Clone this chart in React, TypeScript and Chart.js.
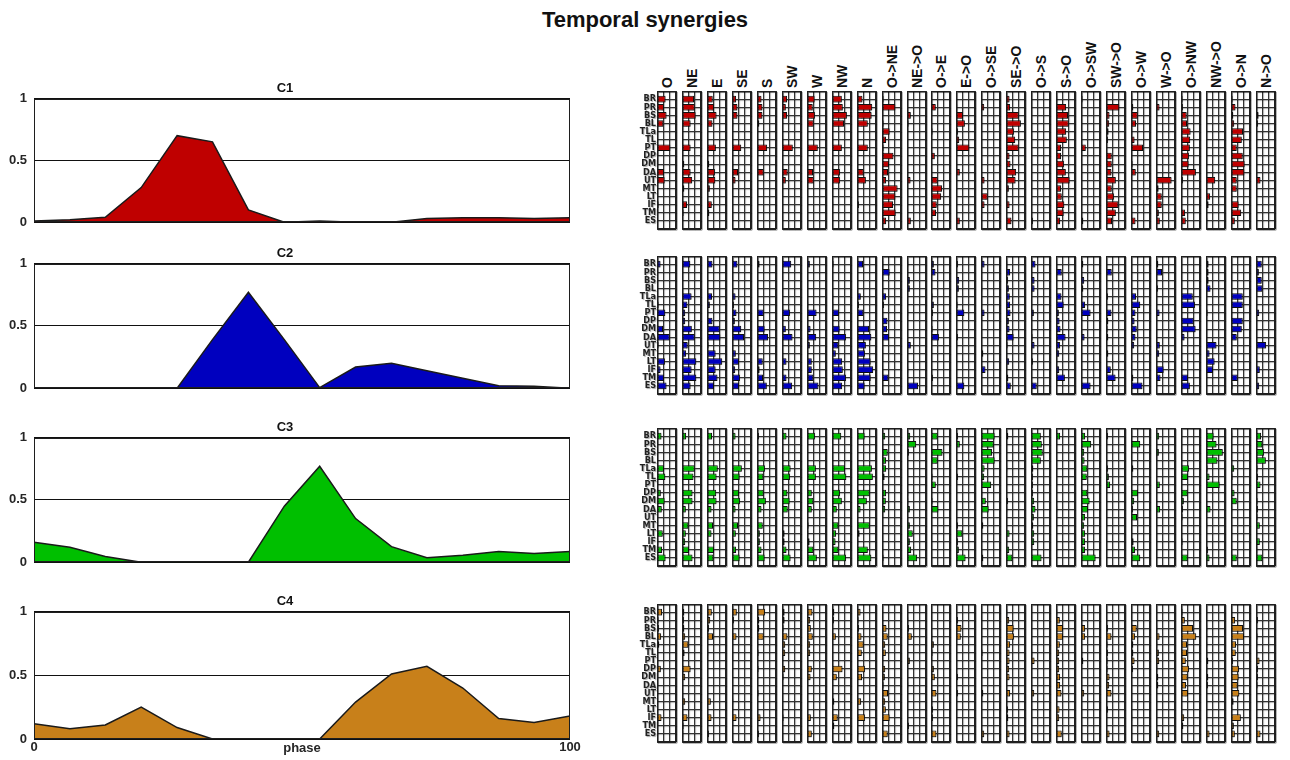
import React, { useEffect, useRef } from 'react';
import { Chart, registerables } from 'chart.js';

Chart.register(...registerables);

const FONT = '"Liberation Sans", Arial, Helvetica, sans-serif';
const NARROW = '"Liberation Sans Narrow", "DejaVu Sans Condensed", "Liberation Sans", sans-serif';

// ---------- Activation coefficients (left) ----------
const PHASE = [0, 6.7, 13.3, 20, 26.7, 33.3, 40, 46.7, 53.3, 60, 66.7, 73.3, 80, 86.7, 93.3, 100];
const C1_ACT = [0.01, 0.02, 0.04, 0.28, 0.7, 0.65, 0.1, 0.0, 0.01, 0.0, 0.0, 0.03, 0.035, 0.035, 0.03, 0.035];
const C2_ACT = [0, 0, 0, 0, 0, 0.39, 0.77, 0.39, 0.005, 0.17, 0.2, 0.14, 0.08, 0.02, 0.015, 0];
const C3_ACT = [0.16, 0.12, 0.045, 0, 0.003, 0, 0, 0.45, 0.77, 0.35, 0.125, 0.035, 0.055, 0.085, 0.07, 0.085];
const C4_ACT = [0.12, 0.08, 0.11, 0.25, 0.09, 0, 0, 0, 0, 0.29, 0.51, 0.57, 0.4, 0.16, 0.13, 0.18];
const Y_TICKS = [0, 0.5, 1];
const X_TICKS = [0, 100];

// ---------- Muscle weights (right) ----------
const MUSCLES = ['BR', 'PR', 'BS', 'BL', 'TLa', 'TL', 'PT', 'DP', 'DM', 'DA', 'UT', 'MT', 'LT', 'IF', 'TM', 'ES'];
const DIRECTIONS = ['O', 'NE', 'E', 'SE', 'S', 'SW', 'W', 'NW', 'N', 'O->NE', 'NE->O', 'O->E', 'E->O', 'O->SE', 'SE->O', 'O->S', 'S->O', 'O->SW', 'SW->O', 'O->W', 'W->O', 'O->NW', 'NW->O', 'O->N', 'N->O'];

const C1_W = [
  [1.35, 1.1, 1.5, 1.0, 0, 0, 2.1, 0.05, 0.15, 1.1, 1.2, 0.05, 0, 0.25, 0, 0],
  [1.9, 2.0, 2.15, 1.35, 0, 0, 1.35, 0, 0.35, 1.35, 1.6, 0.35, 0, 0.8, 0.25, 0],
  [0.9, 1.1, 1.5, 0.85, 0, 0, 1.4, 0, 0.35, 1.25, 1.3, 0.45, 0, 0.75, 0.35, 0],
  [0.65, 0.85, 0.85, 0.2, 0, 0, 1.45, 0, 0.2, 0.95, 0.55, 0, 0, 0, 0.1, 0],
  [0.7, 0.85, 0.85, 0.35, 0, 0, 1.6, 0, 0, 1.05, 0.1, 0, 0, 0, 0, 0],
  [0.8, 0.6, 0.8, 0.15, 0, 0, 1.7, 0, 0, 0.9, 0.6, 0, 0, 0, 0, 0],
  [1.2, 0.9, 1.25, 1.05, 0, 0, 1.7, 0, 0, 0.95, 1.05, 0, 0, 0, 0, 0],
  [1.55, 1.7, 2.35, 1.9, 0, 0, 1.55, 0, 0.2, 1.25, 1.25, 0.15, 0, 0.2, 0, 0],
  [0.85, 2.4, 2.3, 1.7, 0, 0, 1.7, 0, 0, 1.05, 1.4, 0.1, 0.05, 0.3, 0.1, 0],
  [0.25, 2.1, 0, 0.25, 1.2, 0.65, 0.25, 1.8, 1.1, 0.95, 0.65, 2.45, 2.1, 1.75, 2.15, 0.65],
  [0, 0, 0.6, 0.25, 0, 0, 0.15, 0, 0, 0, 0.55, 0, 0, 0, 0, 0.6],
  [0, 0.75, 0, 0, 0.25, 0.15, 0, 0.6, 0.15, 0, 1.05, 1.75, 1.6, 0.9, 0.8, 0],
  [0.15, 0.2, 1.1, 1.4, 0.3, 0.5, 2.1, 0, 0, 0.6, 0.15, 0, 0, 0, 0, 0.6],
  [0, 0.5, 0, 0, 0, 0, 0, 0, 0, 0, 0.55, 0.2, 1.05, 0.55, 0.1, 0],
  [0.55, 0.65, 2.0, 2.35, 1.25, 1.45, 2.0, 0.55, 0.7, 1.6, 1.5, 0.45, 0, 0.55, 0, 0.85],
  [0, 0.15, 0, 0, 0, 0, 0, 0, 0, 0, 0, 0, 0, 0, 0, 0.3],
  [0.2, 1.6, 1.9, 2.0, 1.6, 1.7, 0.8, 0.8, 1.25, 1.55, 2.15, 0.8, 0.9, 1.3, 1.2, 0.65],
  [0.25, 0, 0, 0, 0, 0, 0.75, 0, 0, 0, 0, 0, 0, 0, 0, 0.35],
  [0, 2.1, 0.55, 0.5, 0.4, 0.3, 0.1, 0.9, 0.9, 0.85, 1.55, 0.9, 1.25, 1.95, 1.55, 0.95],
  [0.2, 0.35, 1.05, 0.8, 0.2, 0.55, 1.9, 0, 0.25, 0.75, 0, 0, 0, 0, 0, 0.7],
  [0, 0.55, 0.15, 0, 0, 0, 0.1, 0, 0, 0, 2.45, 0.4, 0.9, 0.9, 0.45, 0.6],
  [0.25, 0.3, 0.9, 0.95, 1.5, 1.45, 1.4, 1.25, 1.2, 2.35, 0.3, 0.1, 0, 0, 0.65, 0.75],
  [0, 0.1, 0, 0, 0, 0, 0, 0, 0, 0, 1.45, 0.1, 0.65, 0.4, 0, 0.2],
  [0.25, 0.7, 0.35, 0.5, 1.9, 1.7, 0.9, 1.85, 2.15, 2.1, 0.9, 0.9, 0.2, 1.2, 1.6, 0.6],
  [0, 0, 0.4, 0.3, 0, 0, 0, 0, 0, 0, 0.7, 0, 0, 0, 0, 0],
];

const C2_W = [
  [0.55, 0, 0, 0, 0.1, 0.25, 1.3, 0, 0.95, 2.0, 0.25, 0.15, 1.25, 0.55, 1.1, 1.5],
  [1.3, 0, 0, 0, 1.5, 0.85, 0.5, 0.5, 1.55, 2.0, 0.9, 0.65, 2.25, 1.5, 2.25, 1.35],
  [0.85, 0, 0, 0, 0.8, 0.45, 0.2, 0.85, 2.0, 2.1, 0.25, 1.35, 2.4, 1.35, 1.65, 1.1],
  [0.85, 0, 0, 0, 0.55, 0.3, 0.7, 0.45, 1.45, 1.9, 0, 0.6, 1.1, 0.5, 1.25, 1.1],
  [0.4, 0, 0, 0, 0, 0, 1.05, 0, 1.2, 1.75, 0.2, 0, 0.9, 0.4, 0.95, 1.55],
  [1.45, 0, 0, 0, 0, 0, 1.25, 0, 0.6, 1.65, 0, 0, 0.7, 0, 0.7, 1.6],
  [0.45, 0, 0, 0, 0, 0.2, 1.5, 0, 0.55, 1.45, 0.45, 0, 0.75, 0.75, 1.0, 1.8],
  [0.25, 0.1, 0, 0, 0.2, 0.2, 1.1, 0, 1.2, 2.2, 1.0, 0.6, 1.6, 1.7, 2.2, 1.6],
  [0.95, 0, 0, 0, 0.6, 0.3, 1.0, 0, 1.9, 2.25, 1.4, 1.25, 2.15, 2.55, 2.15, 1.2],
  [0.2, 1.2, 0, 0, 0.65, 0.3, 0.1, 0.85, 0.8, 1.1, 0, 0, 0, 0, 1.0, 0],
  [0.2, 0, 0.45, 0.45, 0, 0, 0.2, 0, 0, 0, 0.6, 0.15, 0.15, 0.2, 0, 1.75],
  [0.45, 0.7, 0, 0.15, 0.25, 0.45, 0.3, 0, 0.25, 1.25, 0, 0, 0, 0, 0.3, 0],
  [0.3, 0, 0.5, 0.45, 0, 0.25, 1.3, 0, 0.15, 0.3, 0.2, 0, 0, 0, 0, 1.3],
  [0.55, 0, 0, 0.2, 0, 0, 0.55, 0, 0, 0, 0.15, 0.35, 0, 0.7, 0, 0],
  [0.2, 0.65, 0.3, 0.45, 0.6, 0.65, 0.7, 0.45, 0.55, 1.2, 0.25, 0, 0.5, 0, 0.35, 0.75],
  [0.7, 0, 0.55, 0.55, 0, 0, 0.45, 0, 0, 0.25, 0.55, 0, 0.3, 0, 0, 0.9],
  [0.15, 0.9, 0, 0.1, 0.85, 1.2, 0.45, 0.55, 0.7, 1.5, 0.65, 0.5, 0, 0.5, 1.4, 0],
  [0.35, 0, 0.5, 0.35, 0.2, 0.65, 1.5, 0, 0, 0.55, 0, 0, 0, 0, 0, 1.5],
  [0.15, 0.9, 0, 0, 0.3, 0.15, 0.85, 0.35, 0.25, 0.35, 0.1, 0.35, 0, 0.75, 1.5, 0],
  [0, 0, 0, 0, 0.8, 1.45, 0.7, 0.55, 0.9, 0.7, 0.5, 0.1, 0, 0, 0.35, 1.8],
  [0.35, 0.95, 0, 0.3, 0, 0, 0.55, 0, 0, 0.1, 0.6, 0.5, 0, 1.2, 0.7, 0],
  [0, 0.1, 0, 0, 1.85, 2.2, 0, 2.0, 2.3, 0.55, 0, 0.15, 0, 0, 1.1, 1.4],
  [0.4, 0.4, 0.4, 0.7, 0, 0, 0.25, 0, 0, 0.1, 1.65, 0.55, 1.35, 1.1, 0, 0],
  [0.15, 0, 0, 0, 1.85, 1.85, 0, 1.85, 1.7, 0.9, 0, 0.1, 0, 0, 1.05, 0.25],
  [0.9, 0.45, 0.9, 1.0, 0, 0, 0.5, 0, 0, 0, 1.6, 0.15, 0.1, 0.6, 0, 0.5],
];

const C3_W = [
  [0.7, 0, 0, 0, 1.1, 1.3, 0, 0.6, 1.2, 0.75, 0, 0.15, 0.9, 0.2, 0.8, 1.35],
  [0.65, 0.1, 0, 0, 2.0, 1.8, 0, 1.65, 1.65, 0.6, 0, 1.0, 0.6, 0.5, 1.1, 1.65],
  [0.8, 0, 0, 0, 1.7, 1.5, 0, 1.45, 1.5, 0.7, 0, 0.95, 0.7, 0.15, 1.1, 1.0],
  [0.55, 0.1, 0, 0, 1.55, 1.2, 0, 1.1, 1.25, 0.55, 0, 0.95, 0.6, 0.25, 0.65, 1.2],
  [0.3, 0.1, 0, 0, 1.25, 1.0, 0, 1.05, 1.4, 0.7, 0, 0.9, 0.45, 0.45, 0.7, 1.2],
  [0.7, 0, 0, 0, 1.35, 1.25, 0, 0.85, 1.2, 0.9, 0, 0.15, 0.4, 0.4, 0.7, 1.35],
  [1.25, 0, 0, 0, 1.4, 1.4, 0, 0.75, 1.0, 0.75, 0, 0.25, 0.2, 0.4, 1.0, 1.55],
  [1.45, 0.15, 0, 0, 2.05, 2.25, 0, 1.25, 1.55, 0.75, 0, 1.0, 0.65, 0.55, 1.0, 2.2],
  [1.2, 0.15, 0, 0, 2.35, 2.5, 0, 2.0, 1.55, 0.55, 0, 2.0, 0.4, 0.2, 1.7, 2.25],
  [0.5, 0, 0.9, 0.65, 0.65, 0.4, 0.1, 0.65, 0.6, 0.5, 0.15, 0, 0, 0, 0, 0.25],
  [0.5, 1.45, 0.3, 0.05, 0, 0, 0, 0.2, 0.2, 0.45, 0, 0.45, 0.9, 0.45, 0.65, 1.6],
  [1.05, 0.15, 1.8, 1.05, 0.1, 0.25, 0.75, 0, 0.25, 1.15, 0, 0, 0, 0, 0, 0],
  [0.3, 0.6, 0, 0, 0, 0.3, 0, 0.15, 0, 0, 0, 0.3, 1.0, 0.3, 0.45, 1.5],
  [2.15, 2.0, 1.75, 2.15, 0.55, 0.5, 1.6, 0.2, 0.75, 1.2, 0, 0.35, 0, 0.15, 0, 0.35],
  [0.35, 0, 0, 0, 0.2, 0.1, 0, 0.1, 0.3, 0.2, 0, 0.1, 0.55, 0.1, 0.5, 1.0],
  [1.55, 1.7, 1.85, 1.55, 0.35, 0.3, 0.3, 0.3, 0.5, 0.7, 0.45, 0.35, 0.5, 0.5, 0, 1.65],
  [0.65, 0, 0, 0, 0, 0.1, 0, 0, 0.05, 0.2, 0, 0, 0, 0, 0, 0.05],
  [0.65, 1.6, 0.5, 0.55, 1.0, 0.9, 0.15, 1.0, 1.35, 1.1, 0.65, 0.5, 0.65, 0.65, 0.65, 2.3],
  [0.3, 0.05, 0, 0, 0.3, 0.45, 0.65, 0, 0.15, 0.15, 0.15, 0, 0, 0, 0, 0],
  [0.15, 1.45, 0, 0, 0.35, 0, 0, 1.1, 0.5, 0.3, 0.95, 0.1, 0.15, 0.4, 0.65, 1.45],
  [0.5, 0.15, 0.45, 0.15, 0, 0, 0.6, 0, 0.15, 0.65, 0.15, 0, 0, 0, 0, 0.1],
  [0.1, 0, 0, 0, 1.25, 1.1, 0, 1.05, 0.45, 0.3, 0.25, 0, 0, 0.25, 0.1, 1.05],
  [1.2, 1.65, 2.65, 1.8, 0.25, 0.55, 2.15, 0, 0.15, 0.7, 0, 0.2, 0, 0, 0.3, 0.55],
  [0.2, 0.15, 0, 0, 0.5, 0.25, 0, 0.55, 0.9, 0.2, 0, 0, 0, 0, 0, 0.9],
  [0.8, 1.0, 1.25, 1.55, 0.25, 0.3, 0.7, 0.1, 0.25, 0.3, 0.25, 0.6, 0, 0.6, 0.2, 1.0],
];

const C4_W = [
  [0.8, 0.25, 0.3, 0.65, 0.35, 0.15, 0, 0.6, 0, 0, 0.15, 0.15, 0, 0.7, 0, 0],
  [0.35, 0.3, 0.35, 0.5, 1.0, 0.4, 0, 1.35, 0.5, 0, 0, 0.5, 0, 0.85, 0.25, 0.2],
  [0.75, 0.5, 0.3, 0.95, 0.15, 0.2, 0, 0.15, 0, 0, 0, 0.6, 0, 0.7, 0, 0.3],
  [0.75, 0.3, 0, 0.7, 0, 0, 0, 0.15, 0, 0, 0.15, 0.2, 0, 0.7, 0, 0.15],
  [1.25, 0.35, 0.35, 1.05, 0.2, 0.25, 0, 0.25, 0, 0, 0.25, 0, 0, 0.55, 0, 0.3],
  [0.4, 0.4, 0.25, 0.85, 0.5, 0.5, 0, 0.5, 0.25, 0, 0.15, 0, 0, 0.25, 0, 0.15],
  [0.85, 0.5, 0.6, 0.9, 0.5, 0.5, 0, 0.75, 0.55, 0, 0.15, 0, 0, 0.6, 0.15, 0.75],
  [0.35, 0.3, 0.15, 0.6, 0.15, 0, 0, 1.65, 0.75, 0, 0, 0.35, 0, 0.9, 0.35, 0],
  [0.55, 0.25, 0.3, 0.7, 1.05, 0.75, 0, 1.25, 0.8, 0.15, 0, 0.65, 0, 1.25, 0, 0.2],
  [0, 0.15, 0.7, 0.9, 0.5, 0.6, 0.15, 0.5, 0.45, 0.25, 0.95, 0.5, 0.6, 1.2, 0, 0.9],
  [0, 0.2, 0.3, 0.75, 0, 0, 0.45, 0.15, 0.1, 0.2, 0.15, 0, 0, 0, 0.3, 0],
  [0, 0, 0.15, 0.2, 0.45, 0.25, 0, 0.45, 0.6, 0, 0.85, 0.2, 0.3, 0.3, 0.1, 0.85],
  [0, 0.3, 0.85, 0.75, 0, 0, 0, 0, 0.3, 0, 0.3, 0, 0, 0, 0, 0],
  [0, 0, 0.05, 0, 0.15, 0.25, 0, 0.15, 0, 0, 0.35, 0, 0, 0, 0.15, 0.5],
  [0.2, 0.5, 1.2, 1.25, 0.65, 0.55, 0.55, 0.5, 0.55, 0.15, 0.65, 0.15, 0.3, 0.35, 0, 0.55],
  [0, 0, 0, 0, 0, 0.2, 0.55, 0, 0, 0, 0.5, 0, 0, 0, 0, 0.1],
  [0.2, 0.6, 1.1, 1.1, 0.6, 0.5, 0.5, 0.5, 0.65, 0.65, 0.85, 0.15, 0.55, 0.5, 0, 0.9],
  [0, 0, 0.65, 0.65, 0, 0.2, 0.35, 0, 0, 0, 0.5, 0, 0, 0, 0, 0],
  [0, 0, 0.3, 0.85, 0.25, 0.3, 0.25, 0.25, 0.55, 0.5, 0.85, 0.1, 0.3, 0, 0, 0.55],
  [0.1, 0, 0.9, 0.65, 0.35, 0.35, 0.55, 0.3, 0.05, 0, 0, 0, 0, 0.2, 0, 0],
  [0, 0, 0.2, 0.55, 0.2, 0.45, 0.5, 0.2, 0.35, 0.35, 0.1, 0, 0, 0, 0, 0.5],
  [0.25, 0.6, 1.9, 2.4, 0.95, 0.95, 0.75, 1.25, 1.05, 0.8, 1.1, 0.1, 0, 0.5, 0.35, 0],
  [0, 0, 0.2, 0.2, 0.2, 0.2, 0.35, 0.2, 0.35, 0.3, 0, 0, 0, 0, 0.1, 0.55],
  [0, 0.65, 1.9, 2.05, 0.8, 0.75, 0.3, 1.25, 1.2, 1.05, 1.3, 0.4, 0.2, 1.55, 0.45, 0.6],
  [0, 0.3, 0, 0.25, 0.2, 0.2, 0.55, 0.3, 0.3, 0.25, 0, 0, 0, 0, 0.2, 0.7],
];

const SYN_NAMES = ['C1', 'C2', 'C3', 'C4'];
const SYN_COLORS = ['#BF0000', '#0000BF', '#00BF00', '#C8801A'];
const SYN_ACT = [C1_ACT, C2_ACT, C3_ACT, C4_ACT];
const SYN_W = [C1_W, C2_W, C3_W, C4_W];
const W_TICKS = [0, 1, 2, 3];

// ---------- Layout (positions only) ----------
const AREA_TOPS = [100, 265, 439, 613];
const AREA_HEIGHTS = [127, 128, 128, 127];
const AREA_LEFT = 34;
const AREA_RIGHT = 570;
const PANEL_TOPS = [91, 256, 428, 604];
const PANEL_H = 138;
const PANEL_W = 19;
const PANEL_X0 = 657;
const PANEL_PITCH = 24.95;
const HEADER_BASE = 88;

const framePlugin = {
  id: 'frame',
  afterDraw(chart: any) {
    const { ctx, chartArea: a } = chart;
    ctx.save();
    ctx.strokeStyle = '#1e1e1e';
    ctx.lineWidth = 1;
    const l = Math.round(a.left) + 0.5;
    const t = Math.round(a.top) + 0.5;
    const r = Math.round(a.right) - 0.5;
    const b = Math.round(a.bottom) - 0.5;
    ctx.strokeRect(l, t, r - l, b - t);
    ctx.restore();
  },
};

const miniFramePlugin = {
  id: 'miniFrame',
  afterDraw(chart: any) {
    const { ctx, chartArea: a } = chart;
    ctx.save();
    ctx.shadowColor = 'rgba(0,0,0,0.35)';
    ctx.shadowOffsetX = 1;
    ctx.shadowOffsetY = 1;
    ctx.shadowBlur = 0;
    ctx.strokeStyle = '#1e1e1e';
    ctx.lineWidth = 1;
    const l = Math.round(a.left) + 0.5;
    const t = Math.round(a.top) + 0.5;
    const r = Math.round(a.right) - 0.5;
    const b = Math.round(a.bottom) - 0.5;
    ctx.strokeRect(l, t, r - l, b - t);
    ctx.restore();
  },
};

const shadowPlugin = {
  id: 'miniShadow',
  beforeDraw(chart: any) {
    const c = chart.ctx;
    c.save();
    c.shadowColor = 'rgba(0,0,0,0.35)';
    c.shadowOffsetX = 1;
    c.shadowOffsetY = 1;
    c.shadowBlur = 1;
  },
  afterDatasetsDraw(chart: any) {
    chart.ctx.restore();
  },
};

function noPad(s: any) {
  s.paddingTop = 0;
  s.paddingBottom = 0;
  s.paddingLeft = 0;
  s.paddingRight = 0;
}

function AreaPanel({ idx }: { idx: number }) {
  const ref = useRef<HTMLCanvasElement>(null);
  const showX = idx === 3;
  const titleH = 20;
  const plotH = AREA_HEIGHTS[idx];
  const bottomH = showX ? 20 : 10;
  const cw = AREA_RIGHT + 12;
  const ch = titleH + plotH + bottomH;
  useEffect(() => {
    const tickFont = { family: FONT, size: 13, weight: 'bold' as const };
    const chart = new Chart(ref.current!, {
      type: 'line',
      data: {
        datasets: [
          {
            data: PHASE.map((x, i) => ({ x, y: SYN_ACT[idx][i] })),
            fill: 'origin',
            backgroundColor: SYN_COLORS[idx],
            borderColor: '#1a1a1a',
            borderWidth: 1.5,
            pointRadius: 0,
            tension: 0,
          },
        ],
      },
      options: {
        animation: false,
        responsive: false,
        maintainAspectRatio: false,
        devicePixelRatio: 1,
        layout: { padding: { left: 0, right: 12, top: 0, bottom: showX ? 3.4 : 10 } },
        plugins: {
          legend: { display: false },
          tooltip: { enabled: false },
          title: {
            display: true,
            text: SYN_NAMES[idx],
            color: '#111',
            font: { family: FONT, size: 13, weight: 'bold' },
            padding: { top: 1, bottom: 2 },
          },
        },
        scales: {
          x: {
            type: 'linear',
            min: X_TICKS[0],
            max: X_TICKS[1],
            display: showX,
            afterBuildTicks: (s: any) => {
              s.ticks = X_TICKS.map((v) => ({ value: v }));
            },
            ticks: { padding: 1, font: tickFont, color: '#262626', maxRotation: 0, callback: (v: any) => String(v) },
            grid: { display: false, drawTicks: false },
            border: { display: false },
            title: {
              display: showX,
              text: 'phase',
              color: '#262626',
              font: tickFont,
              padding: { top: -15.6, bottom: 0 },
            },
          },
          y: {
            min: 0,
            max: 1,
            afterBuildTicks: (s: any) => {
              s.ticks = Y_TICKS.map((v) => ({ value: v }));
            },
            ticks: { padding: 7, font: tickFont, color: '#262626', callback: (v: any) => String(v) },
            grid: { color: '#111', lineWidth: 1, drawTicks: false },
            border: { display: false },
            afterFit: (s: any) => {
              s.width = AREA_LEFT;
            },
          },
        },
      } as any,
      plugins: [framePlugin],
    });
    return () => chart.destroy();
  }, [idx]);
  return (
    <canvas
      ref={ref}
      width={cw}
      height={ch}
      style={{ position: 'absolute', left: 0, top: AREA_TOPS[idx] - titleH, width: cw, height: ch }}
    />
  );
}

function MiniPanel({ row, col }: { row: number; col: number }) {
  const ref = useRef<HTMLCanvasElement>(null);
  const showLabels = col === 0;
  const labelW = showLabels ? 24 : 0;
  const cw = PANEL_W + 3 + labelW;
  const ch = PANEL_H + 3;
  const left = Math.round(PANEL_X0 + col * PANEL_PITCH);
  const top = PANEL_TOPS[row];
  useEffect(() => {
    const values = SYN_W[row][col];
    const chart = new Chart(ref.current!, {
      type: 'bar',
      data: {
        labels: ['', ...MUSCLES, ''],
        datasets: [
          {
            data: [null, ...values, null],
            backgroundColor: SYN_COLORS[row],
            borderColor: '#111',
            borderWidth: 1,
            borderSkipped: false,
            barPercentage: 0.95,
            categoryPercentage: 0.85,
          },
        ],
      },
      options: {
        indexAxis: 'y',
        animation: false,
        responsive: false,
        maintainAspectRatio: false,
        devicePixelRatio: 1,
        layout: { padding: { left: 1, right: 2, top: 1, bottom: 2 } },
        plugins: { legend: { display: false }, tooltip: { enabled: false }, title: { display: false } },
        scales: {
          x: {
            type: 'linear',
            min: W_TICKS[0],
            max: W_TICKS[W_TICKS.length - 1],
            afterBuildTicks: (s: any) => {
              s.ticks = W_TICKS.map((v) => ({ value: v }));
            },
            ticks: { display: false },
            grid: { color: '#333', lineWidth: 1, drawTicks: false },
            border: { display: false },
            afterFit: (s: any) => {
              s.height = 0;
              noPad(s);
            },
          },
          y: {
            type: 'category',
            offset: false,
            ticks: {
              display: showLabels,
              autoSkip: false,
              padding: 1,
              color: '#222',
              font: { family: NARROW, size: 9, weight: 'bold' },
            },
            grid: { offset: false, color: '#333', lineWidth: 1, drawTicks: false },
            border: { display: false },
            afterFit: (s: any) => {
              s.width = labelW;
              noPad(s);
            },
          },
        },
      } as any,
      plugins: [shadowPlugin, miniFramePlugin],
    });
    return () => chart.destroy();
  }, [row, col]);
  return (
    <canvas
      ref={ref}
      width={cw}
      height={ch}
      style={{ position: 'absolute', left: left - 1 - labelW, top: top - 1, width: cw, height: ch }}
    />
  );
}

export default function App() {
  return (
    <div
      style={{
        position: 'fixed',
        left: 0,
        top: 0,
        width: 1290,
        height: 760,
        background: '#fff',
        fontFamily: FONT,
        overflow: 'hidden',
      }}
    >
      <div
        style={{
          position: 'absolute',
          left: 0,
          width: 1290,
          top: 8,
          textAlign: 'center',
          fontWeight: 'bold',
          fontSize: 22,
          lineHeight: '24px',
          color: '#111',
        }}
      >
        Temporal synergies
      </div>
      {SYN_NAMES.map((_, i) => (
        <AreaPanel key={'a' + i} idx={i} />
      ))}
      {DIRECTIONS.map((d, c) => {
        const cx = Math.round(PANEL_X0 + c * PANEL_PITCH) + PANEL_W / 2;
        return (
          <div
            key={'h' + c}
            style={{
              position: 'absolute',
              left: cx - 7,
              top: HEADER_BASE,
              transform: 'rotate(-90deg)',
              transformOrigin: '0 0',
              whiteSpace: 'nowrap',
              fontWeight: 'bold',
              fontSize: 14,
              lineHeight: '14px',
              color: '#111',
            }}
          >
            {d}
          </div>
        );
      })}
      {SYN_NAMES.map((_, r) =>
        DIRECTIONS.map((__, c) => <MiniPanel key={'m' + r + '-' + c} row={r} col={c} />)
      )}
    </div>
  );
}
